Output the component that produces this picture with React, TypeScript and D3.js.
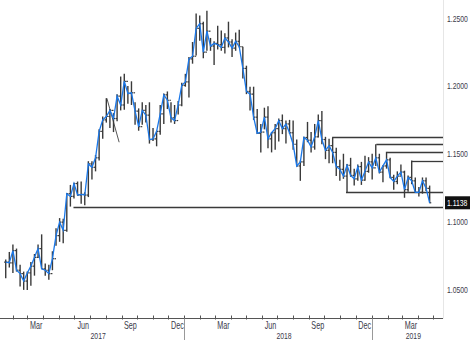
import React from 'react';
import * as d3 from 'd3';

const W = 470;
const H = 340;

// Weekly bars (week ending Friday), EUR/USD-like series
const firstFriday = '2017-01-20';
const lastFriday = '2019-04-26';

const closes = [
  1.0700, 1.0695, 1.0785, 1.0640, 1.0615, 1.0560, 1.0620, 1.0670, 1.0735, 1.0800,
  1.0650, 1.0640, 1.0615, 1.0725, 1.0895, 1.0995, 1.0935, 1.1205, 1.1185, 1.1280,
  1.1195, 1.1200, 1.1195, 1.1425, 1.1400, 1.1470, 1.1665, 1.1750, 1.1775, 1.1820,
  1.1760, 1.1925, 1.1860, 1.2035, 1.1945, 1.1950, 1.1815, 1.1700, 1.1820, 1.1785,
  1.1605, 1.1610, 1.1665, 1.1795, 1.1935, 1.1895, 1.1765, 1.1745, 1.1860, 1.2005,
  1.2030, 1.2200, 1.2220, 1.2425, 1.2460, 1.2250, 1.2405, 1.2295, 1.2315, 1.2305,
  1.2285, 1.2355, 1.2325, 1.2280, 1.2330, 1.2290, 1.2130, 1.1960, 1.1940, 1.1770,
  1.1650, 1.1660, 1.1770, 1.1610, 1.1655, 1.1685, 1.1745, 1.1685, 1.1720, 1.1655,
  1.1570, 1.1410, 1.1440, 1.1620, 1.1600, 1.1550, 1.1625, 1.1745, 1.1605, 1.1525,
  1.1560, 1.1510, 1.1405, 1.1385, 1.1335, 1.1415, 1.1340, 1.1315, 1.1405, 1.1305,
  1.1370, 1.1440, 1.1395, 1.1470, 1.1365, 1.1410, 1.1455, 1.1325, 1.1295, 1.1335,
  1.1365, 1.1235, 1.1325, 1.1300, 1.1215, 1.1215, 1.1300, 1.1245, 1.1138,
];

const highs = [
  1.0720, 1.0775, 1.0830, 1.0800, 1.0680, 1.0630, 1.0630, 1.0700, 1.0760, 1.0830,
  1.0905, 1.0690, 1.0680, 1.0780, 1.0950, 1.1025, 1.1020, 1.1210, 1.1270, 1.1285,
  1.1295, 1.1295, 1.1215, 1.1445, 1.1445, 1.1490, 1.1680, 1.1775, 1.1910, 1.1830,
  1.1800, 1.1940, 1.2070, 1.2090, 1.2000, 1.2035, 1.1880, 1.1835, 1.1880, 1.1860,
  1.1880, 1.1690, 1.1670, 1.1860, 1.1945, 1.1960, 1.1880, 1.1860, 1.1890, 1.2025,
  1.2090, 1.2215, 1.2325, 1.2535, 1.2520, 1.2475, 1.2555, 1.2355, 1.2330, 1.2445,
  1.2410, 1.2390, 1.2475, 1.2345, 1.2395, 1.2415, 1.2290, 1.2150, 1.1995, 1.1995,
  1.1830, 1.1720, 1.1840, 1.1850, 1.1660, 1.1720, 1.1760, 1.1790, 1.1745, 1.1750,
  1.1745, 1.1605, 1.1450, 1.1625, 1.1735, 1.1660, 1.1720, 1.1790, 1.1815, 1.1625,
  1.1610, 1.1620, 1.1545, 1.1455, 1.1500, 1.1425, 1.1470, 1.1390, 1.1420, 1.1440,
  1.1485, 1.1475, 1.1500, 1.1570, 1.1500, 1.1415, 1.1515, 1.1470, 1.1345, 1.1370,
  1.1420, 1.1375, 1.1340, 1.1450, 1.1325, 1.1255, 1.1325, 1.1325, 1.1265,
];

const lows = [
  1.0580, 1.0660, 1.0620, 1.0630, 1.0520, 1.0495, 1.0495, 1.0525, 1.0600, 1.0730,
  1.0650, 1.0600, 1.0570, 1.0640, 1.0820, 1.0850, 1.0840, 1.0925, 1.1110, 1.1170,
  1.1190, 1.1130, 1.1120, 1.1180, 1.1310, 1.1370, 1.1450, 1.1610, 1.1730, 1.1690,
  1.1660, 1.1740, 1.1820, 1.1825, 1.1870, 1.1860, 1.1715, 1.1670, 1.1715, 1.1730,
  1.1575, 1.1595, 1.1555, 1.1640, 1.1720, 1.1830, 1.1730, 1.1720, 1.1790, 1.1850,
  1.1995, 1.1915, 1.2165, 1.2225, 1.2335, 1.2205, 1.2260, 1.2260, 1.2155, 1.2270,
  1.2260, 1.2240, 1.2285, 1.2215, 1.2260, 1.2285, 1.2055, 1.1940, 1.1820, 1.1750,
  1.1645, 1.1510, 1.1680, 1.1540, 1.1510, 1.1530, 1.1590, 1.1645, 1.1575, 1.1645,
  1.1530, 1.1405, 1.1300, 1.1410, 1.1585, 1.1510, 1.1530, 1.1620, 1.1570, 1.1460,
  1.1430, 1.1430, 1.1335, 1.1300, 1.1315, 1.1215, 1.1330, 1.1265, 1.1300, 1.1270,
  1.1300, 1.1360, 1.1310, 1.1410, 1.1355, 1.1290, 1.1390, 1.1320, 1.1235, 1.1275,
  1.1340, 1.1175, 1.1220, 1.1275, 1.1210, 1.1185, 1.1205, 1.1225, 1.1135,
];

// Horizontal support / resistance levels (start date, level)
const levelStarts = ['2017-05-30', '2018-10-16', '2019-01-10', '2019-01-31', '2019-03-20', '2018-11-12'];
const levelValues = [1.1110, 1.1621, 1.1570, 1.1514, 1.1448, 1.1216];

// Short trend line drawn in Aug 2017
const trendDates = ['2017-08-03', '2017-08-27'];
const trendValues = [1.1910, 1.1585];

const yTicks = [1.05, 1.1, 1.15, 1.2, 1.25];
const monthLabelIdx = [2, 5, 8, 11];
const lastValue = 1.1138;

const parse = d3.timeParse('%Y-%m-%d');
const FONT = '"Liberation Sans", Arial, sans-serif';
const TXT = '#3a3a4a';
const SX = 0.72;

function CText({ x, y, anchor = 'start', size = 10, fill = TXT, dy, children }: {
  x: number; y: number; anchor?: string; size?: number; fill?: string; dy?: string; children: React.ReactNode;
}) {
  return (
    <text transform={`translate(${x},${y}) scale(${SX},1)`} dy={dy} fontSize={size} fontFamily={FONT} fill={fill} textAnchor={anchor}>
      {children}
    </text>
  );
}

export default function App() {
  const domainStart = new Date(2017, 0, 1);
  const domainEnd = new Date(2019, 4, 20);
  const x = d3.scaleTime().domain([domainStart, domainEnd]).range([-3, 443]);
  const y = d3.scaleLinear().domain([1.05, 1.25]).range([289.2, 18.3]);
  const plotRight = 443;
  const axisY = 318.5;

  const fridays = d3.timeFriday.range(parse(firstFriday)!, d3.timeDay.offset(parse(lastFriday)!, 1));
  const bars = fridays.map((f, i) => ({
    date: d3.timeDay.offset(f, -2),
    open: i === 0 ? closes[0] : closes[i - 1],
    high: highs[i],
    low: lows[i],
    close: closes[i],
  })).filter(b => b.close !== undefined);

  const line = d3.line<{ date: Date; close: number }>()
    .x(d => x(d.date))
    .y(d => y(d.close));

  const months = d3.timeMonth.range(new Date(2017, 1, 1), new Date(2019, 4, 2));
  const yearStarts = [new Date(2018, 0, 1), new Date(2019, 0, 1)];
  const years = [2017, 2018, 2019];

  return (
    <svg width={W} height={H} style={{ position: 'absolute', left: 0, top: 0, background: '#fff' }}>
      <rect x={0} y={0} width={W} height={H} fill="#fff" />
      {/* right boundary */}
      <line x1={plotRight + 0.5} x2={plotRight + 0.5} y1={0} y2={axisY} stroke="#e6e6e6" />

      {/* level lines */}
      {levelStarts.map((s, i) => (
        <line key={'lv' + i} x1={x(parse(s)!)} x2={plotRight} y1={Math.round(y(levelValues[i])) + 0.5} y2={Math.round(y(levelValues[i])) + 0.5} stroke="#3a3a3a" strokeWidth={1.3} />
      ))}

      {/* trend line */}
      <line x1={x(parse(trendDates[0])!)} y1={y(trendValues[0])} x2={x(parse(trendDates[1])!)} y2={y(trendValues[1])} stroke="#555" strokeWidth={1} />

      {/* OHLC bars */}
      <g stroke="#3a3a3a" strokeWidth={1.4}>
        {bars.map((b, i) => {
          const cx = x(b.date);
          return (
            <g key={'b' + i}>
              <line x1={cx} x2={cx} y1={y(b.high)} y2={y(b.low)} />
              <line x1={cx - 1.6} x2={cx} y1={y(b.open)} y2={y(b.open)} strokeWidth={1.2} />
              <line x1={cx} x2={cx + 1.6} y1={y(b.close)} y2={y(b.close)} strokeWidth={1.2} />
            </g>
          );
        })}
      </g>

      {/* close line */}
      <path d={line(bars) || ''} fill="none" stroke="#1a78ea" strokeWidth={1.3} />

      {/* bottom axis */}
      <line x1={0} x2={plotRight} y1={axisY} y2={axisY} stroke="#555" strokeWidth={1} />
      {months.map((m, i) => (
        <line key={'t' + i} x1={Math.round(x(m)) + 0.5} x2={Math.round(x(m)) + 0.5} y1={axisY - 3} y2={axisY + 1} stroke="#555" />
      ))}
      {months.filter(m => monthLabelIdx.includes(m.getMonth())).map((m, i) => (
        <CText key={'ml' + i} x={(x(m) + x(d3.timeMonth.offset(m, 1))) / 2 + 1} y={329} anchor="middle">
          {d3.timeFormat('%b')(m)}
        </CText>
      ))}
      {yearStarts.map((d, i) => (
        <line key={'ys' + i} x1={Math.round(x(d)) + 0.5} x2={Math.round(x(d)) + 0.5} y1={axisY} y2={H} stroke="#999" />
      ))}
      {years.map((yr, i) => {
        const a = Math.max(0, x(new Date(yr, 0, 1)));
        const b = Math.min(plotRight, x(new Date(yr + 1, 0, 1)));
        return (
          <CText key={'yr' + i} x={(a + b) / 2 + 6} y={339} anchor="middle" size={9.5}>
            {yr}
          </CText>
        );
      })}

      {/* right axis labels */}
      {yTicks.map((v, i) => (
        <CText key={'yl' + i} x={447} y={y(v)} dy="0.35em" size={9.5}>
          {d3.format('.4f')(v)}
        </CText>
      ))}

      {/* last value box */}
      <rect x={445} y={y(lastValue) - 6.5} width={25} height={13} fill="#111" />
      <CText x={447} y={y(lastValue)} dy="0.35em" size={9.5} fill="#fff">
        {d3.format('.4f')(lastValue)}
      </CText>
    </svg>
  );
}
